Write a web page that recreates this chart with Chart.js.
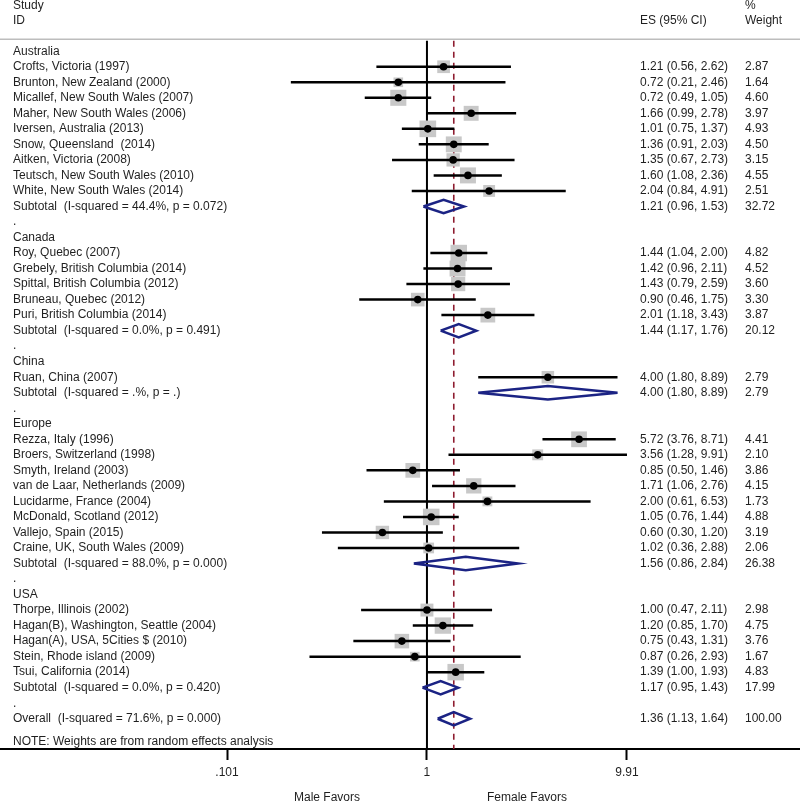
<!DOCTYPE html>
<html>
<head>
<meta charset="utf-8">
<script src="https://cdn.jsdelivr.net/npm/chart.js@4.4.1/dist/chart.umd.min.js"></script>
<style>
  html, body { margin: 0; padding: 0; background: #fff; }
  #wrap { width: 800px; height: 804px; }
</style>
</head>
<body>
<div id="wrap"><canvas id="forest" width="800" height="804"></canvas></div>
<script>
// one entry per row, top to bottom
const rowLabels = [
    'Australia',
    'Crofts, Victoria (1997)',
    'Brunton, New Zealand (2000)',
    'Micallef, New South Wales (2007)',
    'Maher, New South Wales (2006)',
    'Iversen, Australia (2013)',
    'Snow, Queensland  (2014)',
    'Aitken, Victoria (2008)',
    'Teutsch, New South Wales (2010)',
    'White, New South Wales (2014)',
    'Subtotal  (I-squared = 44.4%, p = 0.072)',
    '.',
    'Canada',
    'Roy, Quebec (2007)',
    'Grebely, British Columbia (2014)',
    'Spittal, British Columbia (2012)',
    'Bruneau, Quebec (2012)',
    'Puri, British Columbia (2014)',
    'Subtotal  (I-squared = 0.0%, p = 0.491)',
    '.',
    'China',
    'Ruan, China (2007)',
    'Subtotal  (I-squared = .%, p = .)',
    '.',
    'Europe',
    'Rezza, Italy (1996)',
    'Broers, Switzerland (1998)',
    'Smyth, Ireland (2003)',
    'van de Laar, Netherlands (2009)',
    'Lucidarme, France (2004)',
    'McDonald, Scotland (2012)',
    'Vallejo, Spain (2015)',
    'Craine, UK, South Wales (2009)',
    'Subtotal  (I-squared = 88.0%, p = 0.000)',
    '.',
    'USA',
    'Thorpe, Illinois (2002)',
    'Hagan(B), Washington, Seattle (2004)',
    'Hagan(A), USA, 5Cities $ (2010)',
    'Stein, Rhode island (2009)',
    'Tsui, California (2014)',
    'Subtotal  (I-squared = 0.0%, p = 0.420)',
    '.',
    'Overall  (I-squared = 71.6%, p = 0.000)'
];

// 'g' group heading, 's' study, 'p' pooled (subtotal / overall), '-' spacer
const rowKinds = [
    'g','s','s','s','s','s','s','s','s','s','p','-',
    'g','s','s','s','s','s','p','-',
    'g','s','p','-',
    'g','s','s','s','s','s','s','s','s','p','-',
    'g','s','s','s','s','s','p','-',
    'p'
];

const esValues = [
    null, 1.21, 0.72, 0.72, 1.66, 1.01, 1.36, 1.35, 1.60, 2.04, 1.21, null,
    null, 1.44, 1.42, 1.43, 0.90, 2.01, 1.44, null,
    null, 4.00, 4.00, null,
    null, 5.72, 3.56, 0.85, 1.71, 2.00, 1.05, 0.60, 1.02, 1.56, null,
    null, 1.00, 1.20, 0.75, 0.87, 1.39, 1.17, null,
    1.36
];

const ciLower = [
    null, 0.56, 0.21, 0.49, 0.99, 0.75, 0.91, 0.67, 1.08, 0.84, 0.96, null,
    null, 1.04, 0.96, 0.79, 0.46, 1.18, 1.17, null,
    null, 1.80, 1.80, null,
    null, 3.76, 1.28, 0.50, 1.06, 0.61, 0.76, 0.30, 0.36, 0.86, null,
    null, 0.47, 0.85, 0.43, 0.26, 1.00, 0.95, null,
    1.13
];

const ciUpper = [
    null, 2.62, 2.46, 1.05, 2.78, 1.37, 2.03, 2.73, 2.36, 4.91, 1.53, null,
    null, 2.00, 2.11, 2.59, 1.75, 3.43, 1.76, null,
    null, 8.89, 8.89, null,
    null, 8.71, 9.91, 1.46, 2.76, 6.53, 1.44, 1.20, 2.88, 2.84, null,
    null, 2.11, 1.70, 1.31, 2.93, 1.93, 1.43, null,
    1.64
];

const weights = [
    null, 2.87, 1.64, 4.60, 3.97, 4.93, 4.50, 3.15, 4.55, 2.51, 32.72, null,
    null, 4.82, 4.52, 3.60, 3.30, 3.87, 20.12, null,
    null, 2.79, 2.79, null,
    null, 4.41, 2.10, 3.86, 4.15, 1.73, 4.88, 3.19, 2.06, 26.38, null,
    null, 2.98, 4.75, 3.76, 1.67, 4.83, 17.99, null,
    100.00
];

const overallEs = 1.36;
const xTickValues = [0.101, 1, 9.91];
const xTickLabels = ['.101', '1', '9.91'];
const favorsLabels = ['Male Favors', 'Female Favors'];
const headStudy = ['Study', 'ID'];
const headEs = 'ES (95% CI)';
const headWeight = ['%', 'Weight'];
const noteText = 'NOTE: Weights are from random effects analysis';

// layout
const FONT = '12px "Liberation Sans", Arial, Helvetica, sans-serif';
const TEXT_COLOR = '#1f1f1f';
const LEFT_X = 13, ES_X = 640, W_X = 745;
const Y_MIN = -3.3, Y_MAX = 44.95;
const REF_TOP = -0.68;
const DIAMOND_H = 0.43;

const rows = rowLabels.map((_, i) => i);
const studyRows = rows.filter(i => rowKinds[i] === 's');
const pooledRows = rows.filter(i => rowKinds[i] === 'p');

const datasets = [];

// null line and overall effect line
datasets.push({
    data: [{x: 1, y: REF_TOP}, {x: 1, y: Y_MAX}],
    showLine: true, borderColor: '#000', borderWidth: 2, pointRadius: 0, order: 6
});
datasets.push({
    data: [{x: overallEs, y: REF_TOP}, {x: overallEs, y: Y_MAX}],
    showLine: true, borderColor: '#8e1c30', borderWidth: 1.6, borderDash: [6, 5],
    pointRadius: 0, order: 5
});

// weight boxes, area ~ weight
datasets.push({
    data: studyRows.map(i => ({x: esValues[i], y: i})),
    pointStyle: 'rect',
    pointRadius: studyRows.map(i => 5.3 * Math.sqrt(weights[i])),
    backgroundColor: '#c8c8c8', borderWidth: 0, order: 4
});

// confidence intervals
studyRows.forEach(i => {
    datasets.push({
        data: [{x: ciLower[i], y: i}, {x: ciUpper[i], y: i}],
        showLine: true, borderColor: '#000', borderWidth: 2.5, pointRadius: 0, order: 3
    });
});

// point estimates
datasets.push({
    data: studyRows.map(i => ({x: esValues[i], y: i})),
    pointStyle: 'circle', pointRadius: 3.8,
    backgroundColor: '#000', borderWidth: 0, order: 2
});

// pooled diamonds
pooledRows.forEach(i => {
    datasets.push({
        data: [
            {x: ciLower[i], y: i},
            {x: esValues[i], y: i - DIAMOND_H},
            {x: ciUpper[i], y: i},
            {x: esValues[i], y: i + DIAMOND_H},
            {x: ciLower[i], y: i}
        ],
        showLine: true, borderColor: '#1b2384', borderWidth: 2.5,
        borderJoinStyle: 'miter', pointRadius: 0, order: 1
    });
});

const forestText = {
    id: 'forestText',
    afterDatasetsDraw(chart) {
        const {ctx, chartArea} = chart;
        const x = chart.scales.x, y = chart.scales.y;
        ctx.save();

        // header rule
        ctx.strokeStyle = '#bdbdbd';
        ctx.lineWidth = 1.5;
        ctx.beginPath();
        ctx.moveTo(0, y.getPixelForValue(-0.77));
        ctx.lineTo(800, y.getPixelForValue(-0.77));
        ctx.stroke();

        ctx.fillStyle = TEXT_COLOR;
        ctx.font = FONT;
        ctx.textBaseline = 'middle';
        ctx.textAlign = 'left';

        ctx.fillText(headStudy[0], LEFT_X, y.getPixelForValue(-2.95));
        ctx.fillText(headStudy[1], LEFT_X, y.getPixelForValue(-1.97));
        ctx.fillText(headEs, ES_X, y.getPixelForValue(-1.97));
        ctx.fillText(headWeight[0], W_X, y.getPixelForValue(-2.95));
        ctx.fillText(headWeight[1], W_X, y.getPixelForValue(-1.97));

        rowLabels.forEach((lab, i) => {
            const py = y.getPixelForValue(i);
            ctx.fillText(lab, LEFT_X, py);
            if (esValues[i] !== null) {
                ctx.fillText(esValues[i].toFixed(2) + ' (' + ciLower[i].toFixed(2) + ', ' + ciUpper[i].toFixed(2) + ')', ES_X, py);
                ctx.fillText(weights[i].toFixed(2), W_X, py);
            }
        });

        ctx.fillText(noteText, LEFT_X, y.getPixelForValue(44.5));

        ctx.textAlign = 'center';
        const fy = chartArea.bottom + 49;
        ctx.fillText(favorsLabels[0], x.getPixelForValue(Math.sqrt(xTickValues[0] * xTickValues[1])), fy);
        ctx.fillText(favorsLabels[1], x.getPixelForValue(Math.sqrt(xTickValues[1] * xTickValues[2])), fy);
        ctx.restore();
    }
};

new Chart(document.getElementById('forest').getContext('2d'), {
    type: 'scatter',
    data: { datasets: datasets },
    options: {
        responsive: false,
        animation: false,
        events: [],
        layout: { padding: 0, autoPadding: false },
        plugins: { legend: { display: false }, tooltip: { enabled: false } },
        scales: {
            x: {
                type: 'logarithmic',
                position: 'bottom',
                min: 0.00748,
                max: 72.05,
                afterBuildTicks: (scale) => { scale.ticks = xTickValues.map(v => ({value: v})); },
                afterFit: (scale) => {
                    scale.height = 55;
                    scale.paddingLeft = 0;
                    scale.paddingRight = 0;
                },
                border: { display: true, color: '#000', width: 2 },
                grid: { drawOnChartArea: false, drawTicks: true, tickLength: 11, tickWidth: 2, tickColor: '#000' },
                ticks: {
                    autoSkip: false, maxRotation: 0, padding: 5,
                    color: TEXT_COLOR,
                    font: { family: '"Liberation Sans", Arial, Helvetica, sans-serif', size: 12 },
                    callback: (value, index) => xTickLabels[index]
                }
            },
            y: {
                type: 'linear',
                display: false,
                reverse: true,
                min: Y_MIN,
                max: Y_MAX
            }
        }
    },
    plugins: [forestText]
});
</script>
</body>
</html>
